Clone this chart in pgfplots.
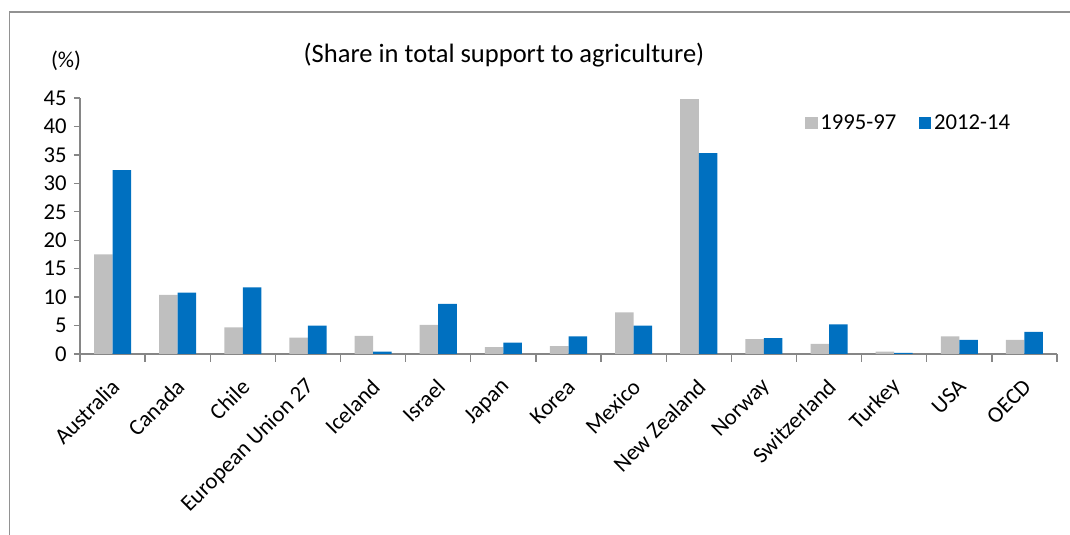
\documentclass[border=0pt]{standalone}
\usepackage{fontspec}
\setmainfont{Carlito}
\usepackage{pgfplots}
\pgfplotsset{compat=1.18}
\definecolor{cgrey}{RGB}{191,191,191}
\definecolor{cblue}{RGB}{0,112,192}
\definecolor{caxis}{RGB}{134,134,134}
\newcommand{\lab}{\fontsize{17}{19}\selectfont}
\begin{document}
\begin{tikzpicture}[x=0.75pt,y=0.75pt]
\path[use as bounding box] (0,0) rectangle (1070,535);
\draw[color=caxis!90, line width=1.1pt] (9.5,0) -- (9.5,523) -- (1070,523);
\node[font=\fontsize{19.9}{22}\selectfont] at (504,480) {(Share in total support to agriculture)};
\node[font=\lab] at (66,474) {(\%)};
\begin{axis}[
  at={(60pt,135.75pt)}, anchor=south west,
  scale only axis, width=732.75pt, height=192pt,
  xmin=-0.5, xmax=14.5, ymin=0, ymax=45,
  axis lines=left, axis line style={-, caxis, line width=1pt},
  ybar=0pt, bar width=13.9pt,
  ytick={0,5,...,45},
  xtick={0,...,14},
  xticklabels={Australia,Canada,Chile,European Union 27,Iceland,Israel,Japan,Korea,Mexico,New Zealand,Norway,Switzerland,Turkey,USA,OECD},
  minor xtick={-0.5,0.5,...,14.5},
  major x tick style={draw=none},
  tick align=outside,
  major tick length=4.5pt, minor tick length=6pt,
  tick style={caxis, line width=1pt},
  ticklabel style={font=\lab},
  /pgf/number format/assume math mode=true,
  xticklabel style={xshift=4.5pt, rotate=45, anchor=east},
  xticklabel shift=15pt,
  yticklabel style={xshift=-2pt},
  legend style={at={(0.742,0.902)}, anchor=west, draw=none, fill=none, font=\lab,
    legend columns=2, /tikz/every even column/.append style={column sep=15pt},
    legend cell align=left, inner sep=0pt},
  legend image code/.code={\fill[#1] (0pt,-4.6pt) rectangle (9.4pt,4.6pt);},
]
\addplot[fill=cgrey, draw=none] coordinates {
(0,17.5) (1,10.4) (2,4.7) (3,2.9) (4,3.2) (5,5.1) (6,1.2) (7,1.4) (8,7.3) (9,44.8) (10,2.6) (11,1.8) (12,0.4) (13,3.1) (14,2.5)};
\addplot[fill=cblue, draw=none] coordinates {
(0,32.3) (1,10.8) (2,11.7) (3,5.0) (4,0.4) (5,8.8) (6,2.0) (7,3.1) (8,5.0) (9,35.3) (10,2.8) (11,5.2) (12,0.2) (13,2.5) (14,3.9)};
\legend{1995-97,2012-14}
\end{axis}
\end{tikzpicture}
\end{document}
